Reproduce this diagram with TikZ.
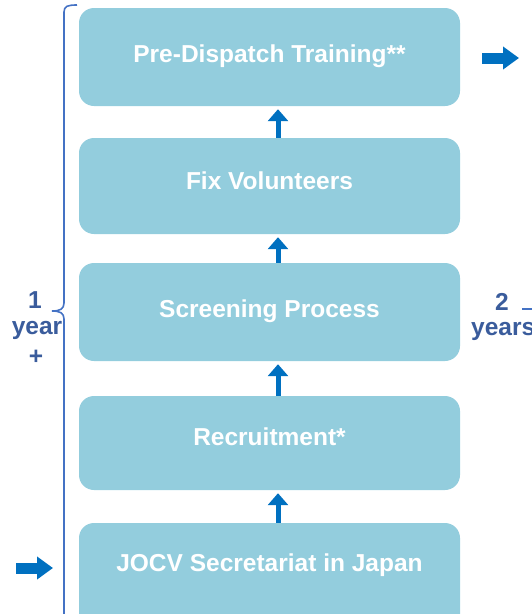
\documentclass[tikz,border=0pt]{standalone}
\usepackage{fontspec}
\setmainfont{Liberation Sans}
\usetikzlibrary{arrows.meta}
\definecolor{boxfill}{HTML}{93CDDD}
\definecolor{arrblue}{HTML}{0070C0}
\definecolor{bracecol}{HTML}{4472C4}
\definecolor{labcol}{HTML}{3A5C9C}
\begin{document}
\begin{tikzpicture}[x=1pt,y=-1pt,
  stagebox/.style={draw=none,fill=boxfill,rounded corners=15pt,minimum width=381pt,inner sep=0pt},
  stagetext/.style={font=\fontsize{24.5}{28}\selectfont\bfseries,text=white,inner sep=0pt},
  uparrow/.style={draw=arrblue,line width=5pt,-{Triangle[width=20pt,length=12pt]}},
  blockarrow/.style={draw=arrblue,line width=11pt,-{Triangle[width=22pt,length=16pt]}},
  sidelab/.style={font=\fontsize{24.5}{28}\selectfont\bfseries,text=labcol,inner sep=0pt},
  bracestyle/.style={draw=bracecol,line width=1.6pt}]
\useasboundingbox (0,0) rectangle (532,614);
\node[stagebox,minimum height=98pt] (b1) at (269.5,57) {};
\node[stagebox,minimum height=96pt] (b2) at (269.5,186) {};
\node[stagebox,minimum height=98pt] (b3) at (269.5,312) {};
\node[stagebox,minimum height=94pt] (b4) at (269.5,443) {};
\node[stagebox,minimum height=120pt] (b5) at (269.5,583) {};
\node[stagetext] (t1) at (269.5,56) {Pre-Dispatch Training**};
\node[stagetext] (t2) at (269.5,181) {Fix Volunteers};
\node[stagetext] (t3) at (269.5,311) {Screening Process};
\node[stagetext] (t4) at (269.5,437) {Recruitment*};
\node[stagetext] (t5) at (269.5,565) {JOCV Secretariat in Japan};
\draw[uparrow] ([xshift=8.5pt]b2.north) -- ([xshift=8.5pt,yshift=-3pt]b1.south);
\draw[uparrow] ([xshift=8.5pt]b3.north) -- ([xshift=8.5pt,yshift=-3pt]b2.south);
\draw[uparrow] ([xshift=8.5pt]b4.north) -- ([xshift=8.5pt,yshift=-3pt]b3.south);
\draw[uparrow] ([xshift=8.5pt]b5.north) -- ([xshift=8.5pt,yshift=-3pt]b4.south);
\coordinate (ra1) at (482,58);
\coordinate (ra2) at (519,58);
\draw[blockarrow] (ra1) -- (ra2);
\coordinate (la1) at (16,568);
\coordinate (la2) at (53,568);
\draw[blockarrow] (la1) -- (la2);
% left brace
\draw[bracestyle] (77,5) .. controls (68,5) and (64,6) .. (64,12) -- (64,303)
  .. controls (64,309) and (60,311) .. (52,311)
  .. controls (60,311) and (64,313) .. (64,319) -- (64,630);
% right brace tip (cut off)
\draw[bracestyle] (522,309) -- (545,309);
\node[sidelab] (l1) at (35,300) {1};
\node[sidelab] (l2) at (37,330) {year};
\node[sidelab] (l3) at (36,357) {+};
\node[sidelab] (r1) at (502,302) {2};
\node[sidelab,anchor=west] (r2) at (471,331) {years};
\end{tikzpicture}
\end{document}
